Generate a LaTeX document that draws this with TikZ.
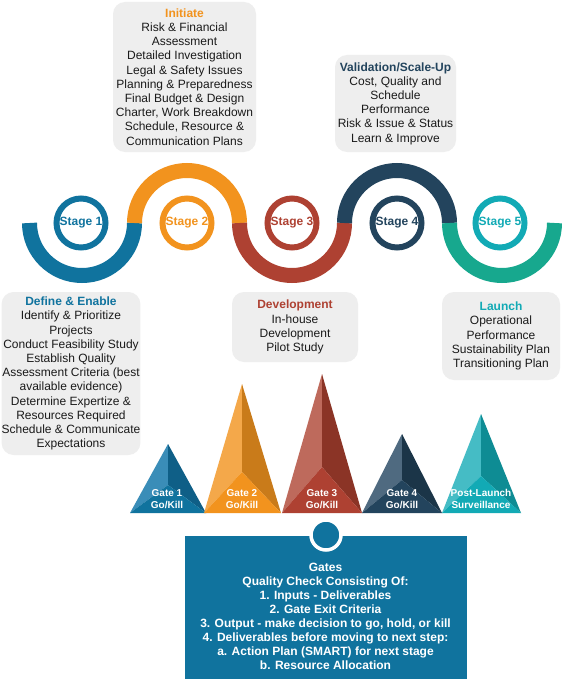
\documentclass[tikz,border=0pt]{standalone}
\usepackage{fontspec}
\setmainfont{Liberation Sans}
\definecolor{cblue}{HTML}{10739E}
\definecolor{corange}{HTML}{F2931E}
\definecolor{cred}{HTML}{AE4132}
\definecolor{cnavy}{HTML}{23445D}
\definecolor{ccyan}{HTML}{12AAB5}
\definecolor{cteal}{HTML}{17A88E}
\definecolor{boxgray}{HTML}{EEEEEE}
\definecolor{txt}{HTML}{1A1A1A}
\definecolor{g1l}{HTML}{3A8DB8}\definecolor{g1r}{HTML}{0F5F87}
\definecolor{g2l}{HTML}{F4A84A}\definecolor{g2r}{HTML}{C97B1A}
\definecolor{g3l}{HTML}{BE6A5C}\definecolor{g3r}{HTML}{8B3426}
\definecolor{g4l}{HTML}{4F6A80}\definecolor{g4r}{HTML}{1B3548}
\definecolor{g5l}{HTML}{45BCC5}\definecolor{g5r}{HTML}{0E8C94}
\tikzset{
  gbox/.style={fill=boxgray, rounded corners=12pt, align=center, inner sep=0pt, text=txt,
    font=\fontsize{12}{14.2}\selectfont},
  stagering/.style={circle, draw, line width=6pt, minimum size=49pt, inner sep=0pt,
    font=\bfseries\fontsize{12}{14}\selectfont},
  wave/.style={line width=15pt},
  gatelbl/.style={text=white, font=\bfseries\fontsize{10}{12}\selectfont, align=center, inner sep=0pt},
}
\begin{document}
\begin{tikzpicture}[x=1pt,y=1pt]
\useasboundingbox[fill=white] (0,0) rectangle (562,-682);

% wave
\draw[wave, cblue]   (29.5,-223)  arc[start angle=180, end angle=360, radius=52.5pt];
\draw[wave, corange] (134.5,-223) arc[start angle=180, end angle=0,   radius=52.5pt];
\draw[wave, cred]    (239.5,-223) arc[start angle=180, end angle=360, radius=52.5pt];
\draw[wave, cnavy]   (344.5,-223) arc[start angle=180, end angle=0,   radius=52.5pt];
\draw[wave, cteal]   (449.5,-223) arc[start angle=180, end angle=360, radius=52.5pt];

% stage rings
\node[stagering, draw=cblue,   text=cblue]   (s1) at (81,-223)  {Stage 1};
\node[stagering, draw=corange, text=corange] (s2) at (187,-223) {Stage 2};
\node[stagering, draw=cred,    text=cred]    (s3) at (292,-223) {Stage 3};
\node[stagering, draw=cnavy,   text=cnavy]   (s4) at (397,-223) {Stage 4};
\node[stagering, draw=ccyan,   text=ccyan]   (s5) at (500,-223) {Stage 5};

% text boxes
\node[gbox, minimum width=143pt, minimum height=150pt] (init) at (184.5,-77)
 {\textcolor{corange}{\bfseries Initiate}\\Risk \& Financial\\Assessment\\Detailed Investigation\\Legal \& Safety Issues\\Planning \& Preparedness\\Final Budget \& Design\\Charter, Work Breakdown\\Schedule, Resource \&\\Communication Plans};
\node[gbox, minimum width=121pt, minimum height=97pt] (valid) at (395.5,-103.5)
 {\textcolor{cnavy}{\bfseries Validation/Scale-Up}\\Cost, Quality and\\Schedule\\Performance\\Risk \& Issue \& Status\\Learn \& Improve};
\node[gbox, minimum width=138pt, minimum height=163pt] (define) at (71,-373.5)
 {\textcolor{cblue}{\bfseries Define \& Enable}\\Identify \& Prioritize\\Projects\\Conduct Feasibility Study\\Establish Quality\\Assessment Criteria (best\\available evidence)\\Determine Expertize \&\\Resources Required\\Schedule \& Communicate\\Expectations};
\node[gbox, minimum width=126pt, minimum height=70pt] (dev) at (295,-327)
 {\textcolor{cred}{\bfseries Development}\\In-house\\Development\\Pilot Study};
\node[gbox, minimum width=118pt, minimum height=88pt] (launch) at (501,-336)
 {\textcolor{ccyan}{\bfseries Launch}\\Operational\\Performance\\Sustainability Plan\\Transitioning Plan};

% gates (pyramids): base y = -513
\fill[g1l] (168,-444) -- (130,-513) -- (168,-485) -- cycle;
\fill[g1r] (168,-444) -- (206,-513) -- (168,-485) -- cycle;
\fill[cblue] (130,-513) -- (168,-485) -- (206,-513) -- cycle;
\fill[g2l] (242,-384) -- (204,-513) -- (242,-472) -- cycle;
\fill[g2r] (242,-384) -- (281,-513) -- (242,-472) -- cycle;
\fill[corange] (204,-513) -- (242,-472) -- (281,-513) -- cycle;
\fill[g3l] (322,-374) -- (282,-513) -- (322,-467) -- cycle;
\fill[g3r] (322,-374) -- (362,-513) -- (322,-467) -- cycle;
\fill[cred] (282,-513) -- (322,-467) -- (362,-513) -- cycle;
\fill[g4l] (402,-434) -- (362,-513) -- (402,-480) -- cycle;
\fill[g4r] (402,-434) -- (442,-513) -- (402,-480) -- cycle;
\fill[cnavy] (362,-513) -- (402,-480) -- (442,-513) -- cycle;
\fill[g5l] (481,-414) -- (442,-513) -- (481,-476) -- cycle;
\fill[g5r] (481,-414) -- (521,-513) -- (481,-476) -- cycle;
\fill[ccyan] (442,-513) -- (481,-476) -- (521,-513) -- cycle;

\node[gatelbl] (g1) at (167,-499) {Gate 1\\Go/Kill};
\node[gatelbl] (g2) at (242,-499) {Gate 2\\Go/Kill};
\node[gatelbl] (g3) at (322,-499) {Gate 3\\Go/Kill};
\node[gatelbl] (g4) at (402,-499) {Gate 4\\Go/Kill};
\node[gatelbl] (g5) at (481,-499) {Post-Launch\\Surveillance};

% gates box
\node[fill=cblue, draw=white, line width=1pt, minimum width=283pt, minimum height=144pt, inner sep=0pt] (gbox) at (325.5,-607) {};
\node[circle, fill=cblue, draw=white, line width=3.5pt, minimum size=30pt, inner sep=0pt] (gc) at (326,-535) {};
\node[text=white, align=center, inner sep=0pt, font=\bfseries\fontsize{12}{14.1}\selectfont] (gtext) at (325.5,-616.5)
 {Gates\\Quality Check Consisting Of:\\1. Inputs - Deliverables\\2. Gate Exit Criteria\\3. Output - make decision to go, hold, or kill\\4. Deliverables before moving to next step:\\a. Action Plan (SMART) for next stage\\b. Resource Allocation};
\end{tikzpicture}
\end{document}
